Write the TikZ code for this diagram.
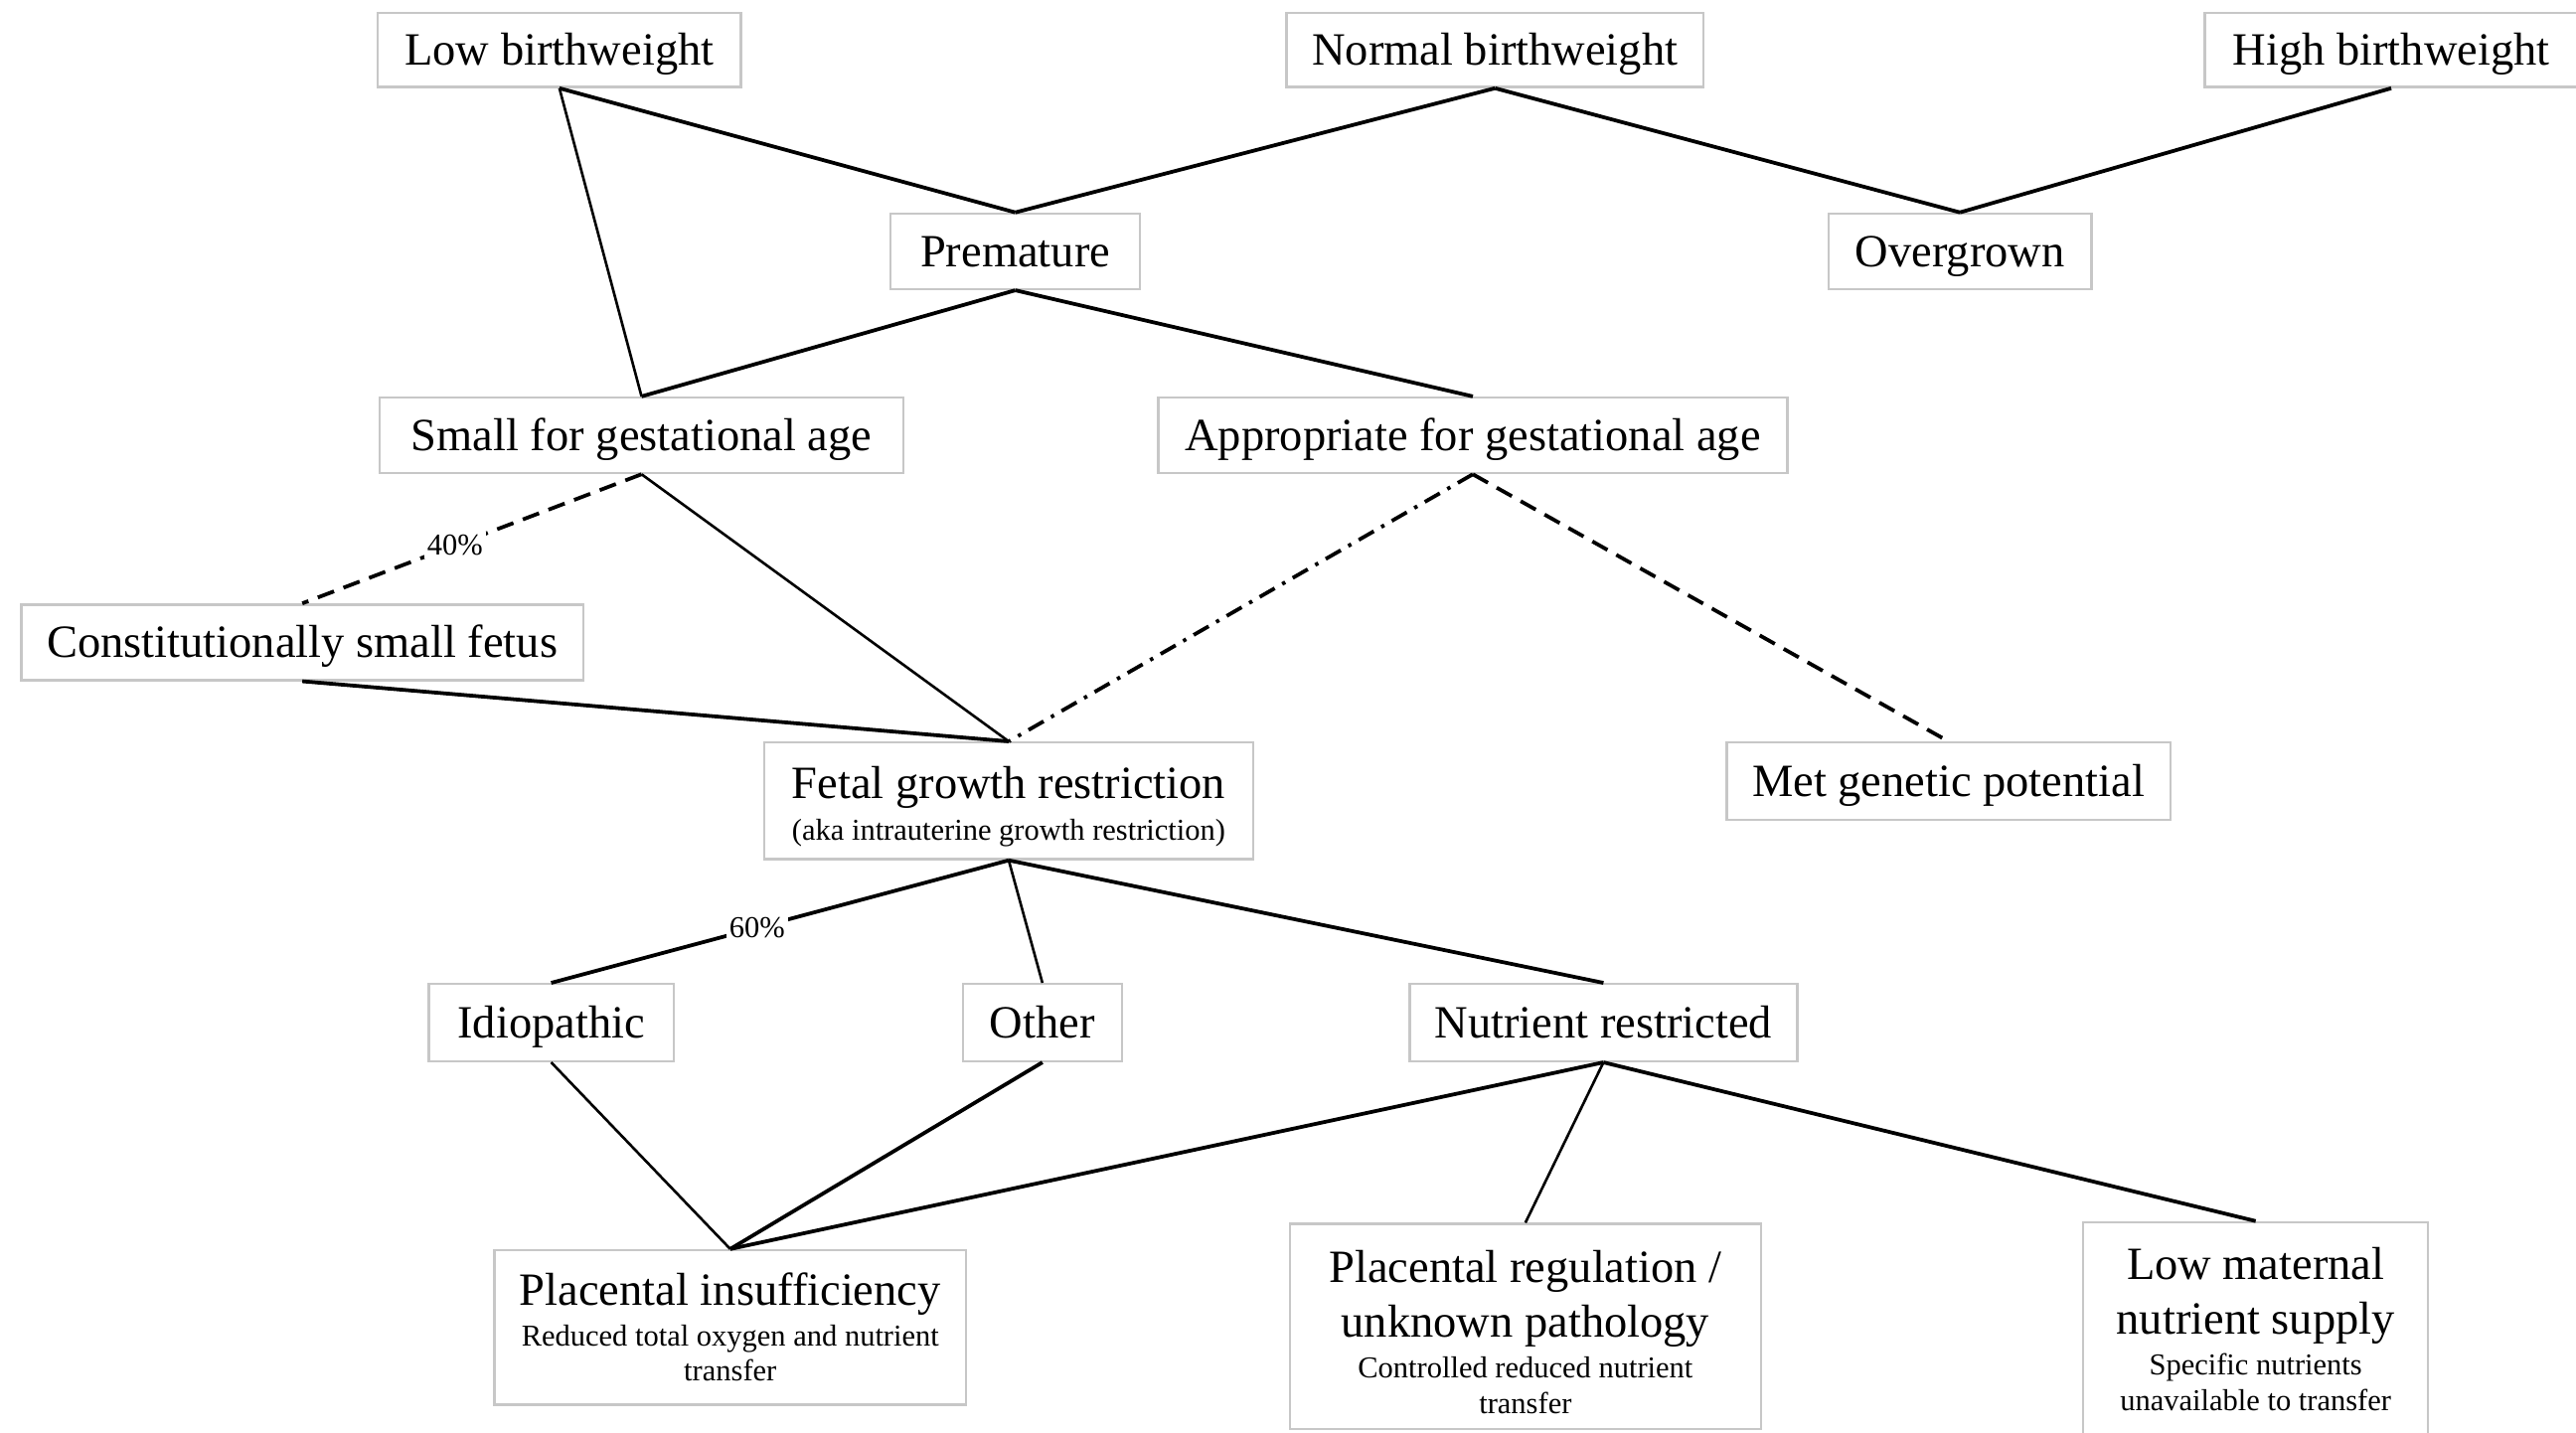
\documentclass[tikz,border=0pt]{standalone}
\usepackage{fontspec}
\setmainfont{Liberation Serif}
\usepackage{tikz}
\usetikzlibrary{positioning}
\newcommand{\subtxt}[1]{{\fontsize{10.5}{12.5}\selectfont #1}}
\newcommand{\toprule}{\rule{0pt}{15pt}}

\begin{document}
\begin{tikzpicture}[x=0.02cm,y=-0.02cm,
  box/.style={draw=black!22,line width=0.8pt,inner sep=0pt,align=center,
    font=\fontsize{16}{19}\selectfont,minimum height=0.92cm},
  onebox/.style={box,text height=14pt,text depth=3.4pt},
  conn/.style={line width=1.3pt},
  thinconn/.style={line width=0.9pt},
  pct/.style={fill=white,inner sep=1pt,font=\fontsize{10.5}{12}\selectfont}]
\useasboundingbox (0,0) rectangle (1568,872);
\node[onebox,minimum width=4.42cm,minimum height=0.9cm] (lbw) at (340.5,30.5) {Low birthweight};
\node[onebox,minimum width=5.08cm,minimum height=0.9cm] (nbw) at (910,30.5) {Normal birthweight};
\node[onebox,minimum width=4.54cm,minimum height=0.9cm] (hbw) at (1455.5,30.5) {High birthweight};
\node[onebox,minimum width=3.04cm] (prem) at (618,153) {Premature};
\node[onebox,minimum width=3.2cm] (over) at (1193,153) {Overgrown};
\node[onebox,minimum width=6.38cm] (sga) at (390.5,265) {Small for gestational age};
\node[onebox,minimum width=7.66cm] (aga) at (896.5,265) {Appropriate\ for\ gestational\ age};
\node[onebox,minimum width=6.84cm] (csf) at (184,391) {Constitutionally small fetus};
\node[box,minimum width=5.96cm,minimum height=1.42cm] (fgr) at (614,487.5) {\toprule Fetal growth restriction\\[-4.5pt]\subtxt{(aka intrauterine growth restriction)}};
\node[onebox,minimum width=5.4cm,minimum height=0.94cm] (mgp) at (1186,475.5) {Met genetic potential};
\node[onebox,minimum width=2.98cm,minimum height=0.94cm] (idio) at (335.5,622.5) {Idiopathic};
\node[onebox,minimum width=1.94cm,minimum height=0.94cm] (oth) at (634.5,622.5) {Other};
\node[onebox,minimum width=4.72cm,minimum height=0.94cm] (nutr) at (976,622.5) {Nutrient restricted};
\node[box,minimum width=5.74cm,minimum height=1.88cm] (pinsuf) at (444.5,808) {Placental insufficiency\\[-5pt]\subtxt{Reduced total oxygen and nutrient}\\[-6.8pt]\subtxt{transfer}};
\node[box,minimum width=5.74cm,minimum height=2.5cm] (preg) at (928.5,807.5) {\toprule Placental regulation /\\unknown pathology\\[-5pt]\subtxt{Controlled reduced nutrient}\\[-6.5pt]\subtxt{transfer}};
\node[box,minimum width=4.2cm,minimum height=2.6cm] (lmat) at (1373,809) {Low maternal\\nutrient supply\\[-5pt]\subtxt{Specific nutrients}\\[-6.5pt]\subtxt{unavailable to transfer}};
\draw[conn] (lbw.south) -- (prem.north);
\draw[thinconn] (lbw.south) -- (sga.north);
\draw[conn] (nbw.south) -- (prem.north);
\draw[conn] (nbw.south) -- (over.north);
\draw[conn] (hbw.south) -- (over.north);
\draw[conn] (prem.south) -- (sga.north);
\draw[conn] (prem.south) -- (aga.north);
\draw[conn,dash pattern=on 6pt off 3.5pt] (sga.south) -- node[pct,pos=0.55] {40\%} (csf.north);
\draw[thinconn] (sga.south) -- (fgr.north);
\draw[conn] (csf.south) -- (fgr.north);
\draw[conn,dash pattern=on 6pt off 3pt on 1.2pt off 3pt] (aga.south) -- (fgr.north);
\draw[conn,dash pattern=on 6pt off 3.5pt] (aga.south) -- (mgp.north);
\draw[conn] (fgr.south) -- node[pct,pos=0.55] {60\%} (idio.north);
\draw[thinconn] (fgr.south) -- (oth.north);
\draw[conn] (fgr.south) -- (nutr.north);
\draw[thinconn] (idio.south) -- (pinsuf.north);
\draw[conn] (oth.south) -- (pinsuf.north);
\draw[conn] (nutr.south) -- (pinsuf.north);
\draw[thinconn] (nutr.south) -- (preg.north);
\draw[conn] (nutr.south) -- (lmat.north);
\end{tikzpicture}
\end{document}
